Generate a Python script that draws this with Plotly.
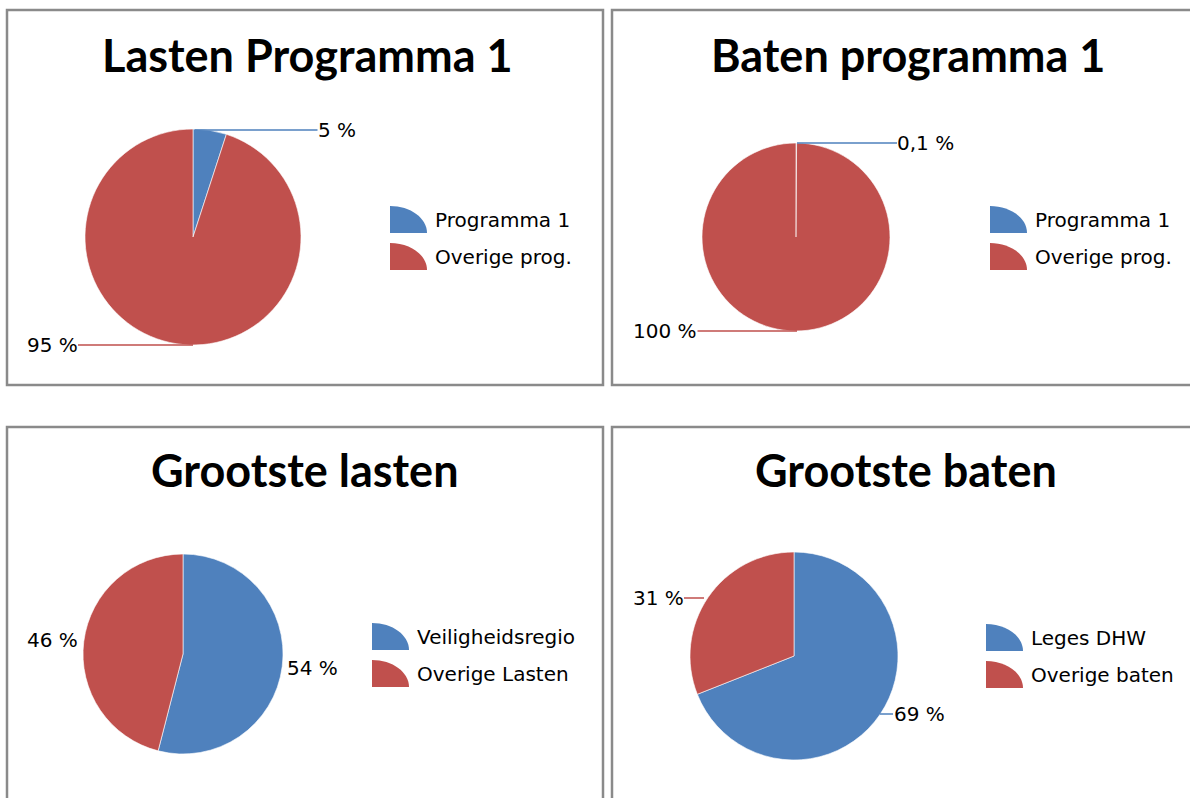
import plotly.graph_objects as go

# ---------------- data ----------------
titles = ["Lasten Programma 1", "Baten programma 1", "Grootste lasten", "Grootste baten"]
labels_tl = ["Programma 1", "Overige prog."]
values_tl = [5, 95]
text_tl = ["5 %", "95 %"]
labels_tr = ["Programma 1", "Overige prog."]
values_tr = [0.1, 99.9]
text_tr = ["0,1 %", "100 %"]
labels_bl = ["Veiligheidsregio", "Overige Lasten"]
values_bl = [54, 46]
text_bl = ["54 %", "46 %"]
labels_br = ["Leges DHW", "Overige baten"]
values_br = [69, 31]
text_br = ["69 %", "31 %"]

BLUE = "#4F81BD"
RED = "#C0504D"
colors = [BLUE, RED]

W, H = 1190, 798
def px(x):
    return x / W
def py(y):
    return 1 - y / H

# layout (pixel) geometry per panel
panels = [
    dict(box=(7, 10, 603, 385), title=(307, 55), pie=(193, 237, 108), legend=(390, 206)),
    dict(box=(612, 10, 1200, 385), title=(908, 55), pie=(796, 237, 94), legend=(990, 206)),
    dict(box=(7, 427, 603, 810), title=(305, 470), pie=(183, 654, 100), legend=(372, 623)),
    dict(box=(612, 427, 1200, 810), title=(906, 470), pie=(794, 656, 104), legend=(986, 624)),
]
datasets = [
    (labels_tl, values_tl, text_tl),
    (labels_tr, values_tr, text_tr),
    (labels_bl, values_bl, text_bl),
    (labels_br, values_br, text_br),
]
# label placement: (anchor point on pie, text centre) in pixels
label_pos = [
    [((195, 130), (337, 130)), ((193, 345), (52, 345))],
    [((797, 143), (926, 143)), ((797, 331), (665, 331))],
    [(None, (312, 668)), (None, (52, 640))],
    [((880, 714), (919, 714)), ((704, 598), (658, 598))],
]

fig = go.Figure()
shapes = []
annotations = []
LABEL_FONT = dict(family="DejaVu Sans", size=20, color="#000000")

for i, (p, (labs, vals, txts)) in enumerate(zip(panels, datasets)):
    cx, cy, r = p["pie"]
    fig.add_trace(go.Pie(
        labels=labs, values=vals, sort=False, direction="clockwise", rotation=0,
        marker=dict(colors=colors, line=dict(color="rgba(255,255,255,0.6)", width=1)),
        textinfo="none", showlegend=False, hoverinfo="label+percent",
        domain=dict(x=[px(cx - r), px(cx + r)], y=[py(cy + r), py(cy - r)]),
    ))
    x0, y0, x1, y1 = p["box"]
    shapes.append(dict(type="rect", xref="paper", yref="paper",
                       x0=px(x0), x1=px(x1), y0=py(y1), y1=py(y0),
                       line=dict(color="#8a8a8a", width=2.5), layer="below"))
    tx, ty = p["title"]
    annotations.append(dict(x=px(tx), y=py(ty), xref="paper", yref="paper",
                            text="<b>%s</b>" % titles[i], showarrow=False,
                            xanchor="center", yanchor="middle",
                            font=dict(family="Lato", size=45, color="#000000")))
    # legend
    lx, ly = p["legend"]
    for j, lab in enumerate(labs):
        ix0, ix1 = lx, lx + 37
        iy_top, iy_bot = ly + j * 37, ly + j * 37 + 27
        k = 0.5523
        X0, X1 = px(ix0), px(ix1)
        YT, YB = py(iy_top), py(iy_bot)
        path = ("M %f,%f L %f,%f C %f,%f %f,%f %f,%f Z" %
                (X0, YB, X0, YT, X0 + k * (X1 - X0), YT, X1, YB + k * (YT - YB), X1, YB))
        shapes.append(dict(type="path", xref="paper", yref="paper", path=path,
                           fillcolor=colors[j], line=dict(width=0)))
        annotations.append(dict(x=px(ix1 + 6), y=py((iy_top + iy_bot) / 2), 
                                xref="paper", yref="paper", text=lab, showarrow=False,
                                xanchor="left", yanchor="middle", font=LABEL_FONT))
    # data labels
    for j, txt in enumerate(txts):
        anchor, centre = label_pos[i][j]
        if anchor is None:
            annotations.append(dict(x=px(centre[0]), y=py(centre[1]), xref="paper", yref="paper",
                                    text=txt, showarrow=False, xanchor="center", yanchor="middle",
                                    font=LABEL_FONT))
        else:
            annotations.append(dict(x=px(anchor[0]), y=py(anchor[1]), xref="paper", yref="paper",
                                    text=txt, showarrow=True, arrowhead=0, arrowwidth=1.5,
                                    arrowcolor=colors[j], standoff=0, startstandoff=0,
                                    ax=centre[0] - anchor[0], ay=centre[1] - anchor[1],
                                    borderpad=0, font=LABEL_FONT))

fig.update_layout(width=W, height=H, margin=dict(l=0, r=0, t=0, b=0),
                  paper_bgcolor="white", plot_bgcolor="white",
                  shapes=shapes, annotations=annotations, showlegend=False)

fig.write_html("out.html", config={"displayModeBar": False},
               post_script="document.body.style.margin='0';document.body.style.overflow='hidden';")
